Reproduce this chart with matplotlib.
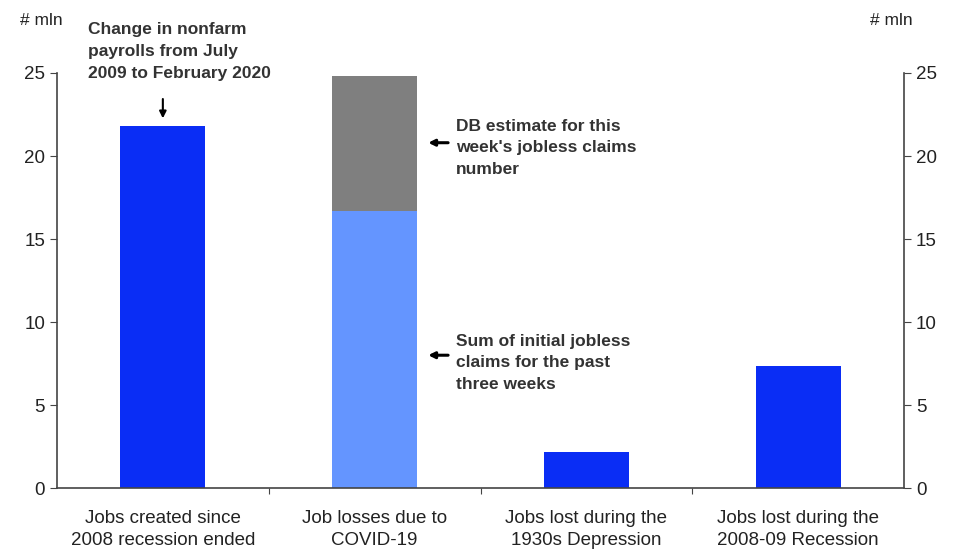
import matplotlib
matplotlib.use("Agg")
import matplotlib.pyplot as plt
from matplotlib import font_manager

names = {f.name for f in font_manager.fontManager.ttflist}
cands = [n for n in ["Liberation Sans Narrow", "DejaVu Sans Condensed", "Liberation Sans", "DejaVu Sans"] if n in names]
plt.rcParams['font.family'] = cands

categories = ["Jobs created since\n2008 recession ended", "Job losses due to\nCOVID-19",
              "Jobs lost during the\n1930s Depression", "Jobs lost during the\n2008-09 Recession"]
base_values = [21.8, 16.7, 2.15, 7.35]
db_estimate = [0, 8.1, 0, 0]
base_colors = ["#0a2df5", "#6495ff", "#0a2df5", "#0a2df5"]
gray = "#7f7f7f"
yticks = [0, 5, 10, 15, 20, 25]

fig = plt.figure(figsize=(9.54, 5.53), dpi=100)
ax = fig.add_axes([0.0597, 0.1175, 0.888, 0.7505])
x = list(range(len(categories)))
ax.bar(x, base_values, width=0.4, color=base_colors, zorder=2)
ax.bar(x, db_estimate, width=0.4, bottom=base_values, color=gray, zorder=2)

ax.set_xlim(-0.5, 3.5)
ax.set_ylim(0, 25)
ax.set_yticks(yticks)
ax.set_xticks([0.5, 1.5, 2.5])
ax.set_xticks(x, minor=True)
ax.set_xticklabels([])
ax.set_xticklabels(categories, minor=True, fontsize=13.5, color="#222222", linespacing=1.35)
ax.tick_params(axis='x', which='minor', length=0, pad=16)
ax.tick_params(axis='x', which='major', length=4, direction='out', color="#444444")
ax.tick_params(axis='y', which='both', left=True, right=True, labelleft=True, labelright=True,
               direction='out', length=5, labelsize=13.5, labelcolor="#222222", color="#444444")
ax.spines['top'].set_visible(False)
for s in ['left', 'right', 'bottom']:
    ax.spines[s].set_color("#444444")
    ax.spines[s].set_linewidth(1.2)

fig.text(0.021, 0.963, "# mln", fontsize=12.5, color="#222222", va='center')
fig.text(0.912, 0.963, "# mln", fontsize=12.5, color="#222222", va='center')

tc = "#333333"
ax.text(-0.354, 28.1, "Change in nonfarm\npayrolls from July\n2009 to February 2020", fontsize=12.5,
        fontweight='bold', color=tc, va='top', ha='left', linespacing=1.6)
ax.annotate("", xy=(0, 22.1), xytext=(0, 23.6),
            arrowprops=dict(arrowstyle='-|>', color='black', lw=1.5, mutation_scale=10))
ax.text(1.385, 20.5, "DB estimate for this\nweek's jobless claims\nnumber", fontsize=12.5,
        fontweight='bold', color=tc, va='center', ha='left', linespacing=1.55)
ax.annotate("", xy=(1.24, 20.8), xytext=(1.36, 20.8),
            arrowprops=dict(arrowstyle='-|>', color='black', lw=2.2, mutation_scale=9))
ax.text(1.385, 7.55, "Sum of initial jobless\nclaims for the past\nthree weeks", fontsize=12.5,
        fontweight='bold', color=tc, va='center', ha='left', linespacing=1.55)
ax.annotate("", xy=(1.24, 8.0), xytext=(1.36, 8.0),
            arrowprops=dict(arrowstyle='-|>', color='black', lw=2.2, mutation_scale=9))

fig.savefig("out.png", dpi=100)
